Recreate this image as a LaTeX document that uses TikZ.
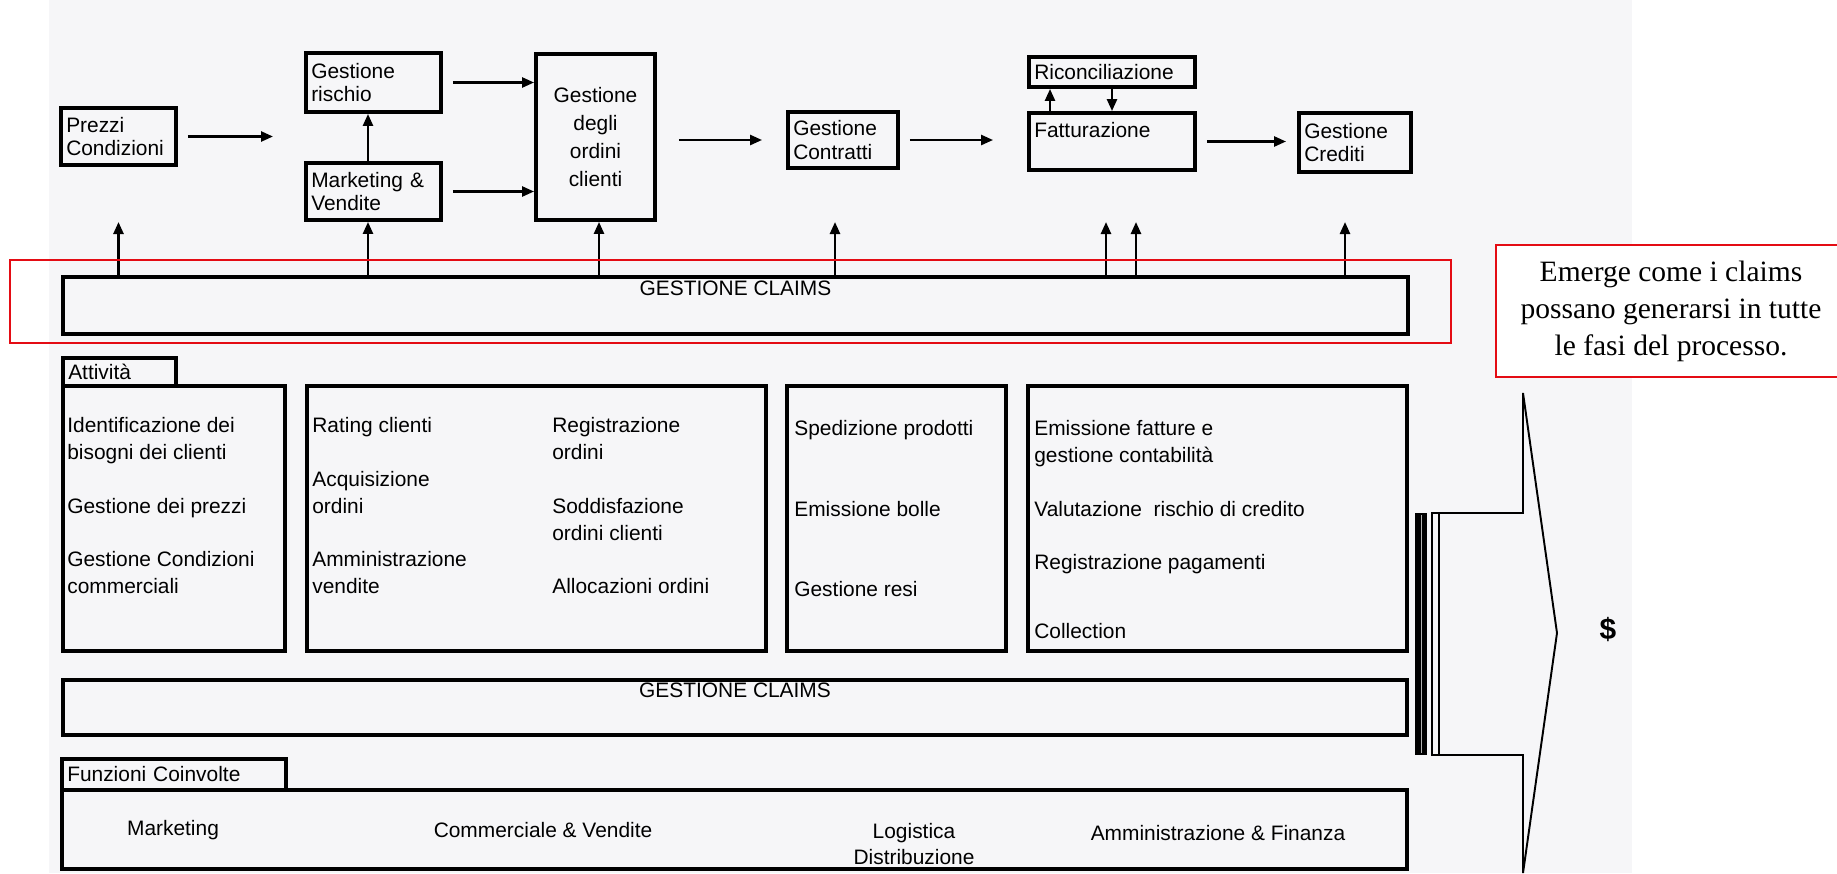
\documentclass[tikz,border=0pt]{standalone}
\usepackage{fontspec}
\setmainfont{Liberation Serif}
\newfontfamily\flowfont{Liberation Sans}
\usepackage{tikz}
\usetikzlibrary{arrows.meta,positioning}
\definecolor{scanpaper}{RGB}{246,246,248}
\definecolor{notered}{RGB}{228,12,20}
\newcommand{\chartfont}{\flowfont\fontsize{11.9pt}{13.6pt}\selectfont}
\newcommand{\listfont}{\flowfont\fontsize{11.9pt}{15.3pt}\selectfont}

\begin{document}
\begin{tikzpicture}[x=0.02cm,y=-0.02cm,
  every node/.style={font=\chartfont},
  pbox/.style={draw,line width=2.2pt,inner xsep=3pt,inner ysep=0pt,align=left},
  band/.style={draw,line width=2.4pt,inner sep=0pt},
  tabbox/.style={draw,line width=1.8pt,inner xsep=3pt,inner ysep=0pt,align=left},
  listcol/.style={anchor=north west,inner sep=0pt,align=left,font=\listfont},
  flow/.style={-{Triangle[length=0.24cm,width=0.2cm]},line width=1.4pt,shorten <=0.2cm},
  rise/.style={-{Triangle[length=0.24cm,width=0.2cm]},line width=1.4pt},
  redframe/.style={draw=notered,line width=1.4pt,inner sep=0pt},
  ]
  \useasboundingbox (0,0) rectangle (1837,873);
  \fill[scanpaper] (49,0) rectangle (1632,873);

  %─── Process chain ─────────────────────────────────────────────────────────
  \node[pbox,text width=2.09cm,minimum height=1.14cm]
    (prezzi) at (118.5,136.5) {Prezzi\\Condizioni};
  \node[pbox,text width=2.49cm,minimum height=1.18cm]
    (rischio) at (373.5,82.5) {Gestione\\rischio};
  \node[pbox,text width=2.49cm,minimum height=1.14cm]
    (mkt) at (373.5,191.5) {Marketing \&\\Vendite};
  \node[pbox,text width=2.17cm,minimum height=3.32cm,align=center,
        font=\flowfont\fontsize{11.9pt}{15.9pt}\selectfont]
    (ordini) at (595.5,137) {Gestione\\degli\\ordini\\clienti};
  \node[pbox,text width=1.99cm,minimum height=1.12cm]
    (contratti) at (843,140) {Gestione\\Contratti};
  \node[pbox,text width=3.11cm,minimum height=0.60cm]
    (ricon) at (1112,72) {Riconciliazione};
  \node[pbox,text width=3.11cm,minimum height=1.14cm]
    (fatt) at (1112,141.5) {Fatturazione\\\mbox{}};
  \node[pbox,text width=2.03cm,minimum height=1.18cm]
    (crediti) at (1355,142.5) {Gestione\\Crediti};

  \coordinate (pzend) at (273,136.5);
  \coordinate (tipline) at (0,222);

  \draw[flow] (prezzi.east) -- (pzend);
  \draw[flow] (rischio.east) -- (rischio.east -| ordini.west);
  \draw[flow] (mkt.east) -- (mkt.east -| ordini.west);
  \draw[flow,shorten <=0.44cm,shorten >=0.48cm]
    (ordini.east |- contratti.west) -- (contratti.west);
  \draw[flow,shorten >=0.68cm] (contratti.east) -- (contratti.east -| fatt.west);
  \draw[flow,shorten >=0.22cm] (fatt.east) -- (fatt.east -| crediti.west);

  \draw[rise] ([xshift=-0.11cm]mkt.north) -- ([xshift=-0.11cm]rischio.south);
  \draw[rise] ([xshift=-1.24cm]fatt.north) -- ([xshift=-1.24cm]ricon.south);
  \draw[rise] (ricon.south) -- (fatt.north);

  %─── Claims band (top) ─────────────────────────────────────────────────────
  \node[band,minimum width=26.90cm,minimum height=1.14cm,
        label={[anchor=north,inner sep=0pt,yshift=-0.12cm]north:GESTIONE CLAIMS}]
    (claimsA) at (735.5,305.5) {};

  \draw[rise] (prezzi |- claimsA.north) -- (prezzi |- tipline);
  \draw[rise] ([xshift=-0.11cm]mkt.south |- claimsA.north) -- ([xshift=-0.11cm]mkt.south);
  \draw[rise] ([xshift=0.07cm]ordini.south |- claimsA.north) -- ([xshift=0.07cm]ordini.south);
  \draw[rise] ([xshift=-0.16cm]contratti.south |- claimsA.north)
    -- ([xshift=-0.16cm]contratti.south |- tipline);
  \draw[rise] ([xshift=-0.12cm]fatt.south |- claimsA.north)
    -- ([xshift=-0.12cm]fatt.south |- tipline);
  \draw[rise] ([xshift=0.48cm]fatt.south |- claimsA.north)
    -- ([xshift=0.48cm]fatt.south |- tipline);
  \draw[rise] ([xshift=-0.2cm]crediti.south |- claimsA.north)
    -- ([xshift=-0.2cm]crediti.south |- tipline);

  % highlight round the band and its note
  \node[redframe,minimum width=28.82cm,minimum height=1.66cm]
    (hilite) at (730.5,301.5) {};
  \node[redframe,fill=white,minimum width=7.0cm,minimum height=2.64cm,align=center,
        font=\rmfamily\fontsize{16.8pt}{21pt}\selectfont]
    (note) at (1671,311)
    {Emerge come i claims\\possano generarsi in tutte\\le fasi del processo.};

  %─── Attività ──────────────────────────────────────────────────────────────
  \node[tabbox,text width=2.05cm,minimum height=0.56cm]
    (atttab) at (119.5,372) {Attività};
  \node[band,minimum width=4.44cm,minimum height=5.30cm] (act1) at (174,518.5) {};
  \node[band,minimum width=9.18cm,minimum height=5.30cm] (act2) at (536.5,518.5) {};
  \node[band,minimum width=4.38cm,minimum height=5.30cm] (act3) at (896.5,518.5) {};
  \node[band,minimum width=7.58cm,minimum height=5.30cm] (act4) at (1217.5,518.5) {};

  \node[listcol] (list1) at (67,417)
    {Identificazione dei\\bisogni dei clienti\\[15.3pt]Gestione dei prezzi\\[15.3pt]%
     Gestione Condizioni\\commerciali};
  \node[listcol] (list2a) at (312,417)
    {Rating clienti\\[15.3pt]Acquisizione\\ordini\\[15.3pt]Amministrazione\\vendite};
  \node[listcol] (list2b) at (552,417)
    {Registrazione\\ordini\\[15.3pt]Soddisfazione\\ordini clienti\\[15.3pt]%
     Allocazioni ordini};
  \node[listcol] (list3) at (794,420)
    {Spedizione prodotti\\[30.6pt]Emissione bolle\\[30.6pt]Gestione resi};
  \node[listcol] (list4) at (1034,420)
    {Emissione fatture e\\gestione contabilità\\[15.3pt]Valutazione\ \ rischio di credito%
     \\[15.3pt]Registrazione pagamenti\\[23.8pt]Collection};

  %─── Claims band (bottom) ──────────────────────────────────────────────────
  \node[band,minimum width=26.88cm,minimum height=1.10cm,
        label={[anchor=north,inner sep=0pt,yshift=-0.1cm]north:GESTIONE CLAIMS}]
    (claimsB) at (735,707.5) {};

  %─── Funzioni coinvolte ────────────────────────────────────────────────────
  \node[tabbox,text width=4.27cm,minimum height=0.62cm]
    (funtab) at (174,774.5) {Funzioni Coinvolte};
  \node[band,minimum width=26.90cm,minimum height=1.58cm] (funz) at (734.5,829.5) {};
  \node (fmkt) at (173,830) {Marketing};
  \node (fcom) at (543,830) {Commerciale \& Vendite};
  \node[align=center,font=\flowfont\fontsize{11.9pt}{14.7pt}\selectfont]
    (flog) at (914,844) {Logistica\\Distribuzione};
  \node (famm) at (1218,833) {Amministrazione \& Finanza};

  %─── Value arrow ───────────────────────────────────────────────────────────
  \fill (1415,513) rectangle (1427,755);
  \draw[gray!60,line width=0.5pt] (1421.5,515) -- (1421.5,753);
  \draw[line width=0.9pt] (1432,513) rectangle (1439,755);
  \draw[line width=1.1pt,line join=miter]
    (1523,393) -- (1557,633) -- (1523,873) -- (1523,755)
    -- (1439,755) -- (1439,513) -- (1523,513) -- cycle;
  \node[font=\flowfont\bfseries\fontsize{17pt}{17pt}\selectfont]
    (dollar) at (1608,630) {\$};

\end{tikzpicture}
\end{document}
